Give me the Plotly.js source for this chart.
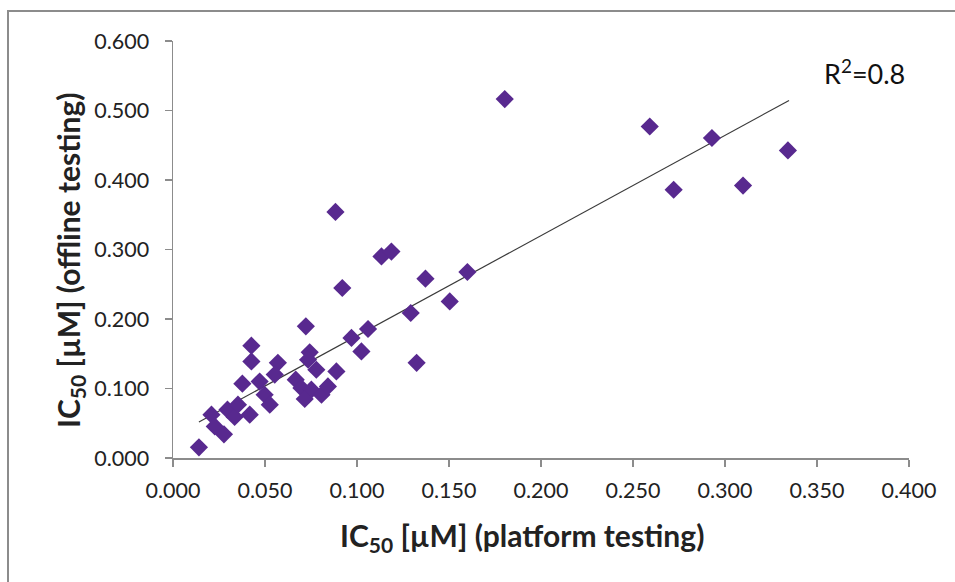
<!DOCTYPE html>
<html>
<head>
<meta charset="utf-8">
<script src="https://cdn.plot.ly/plotly-3.0.1.min.js"></script>
<style>
  html, body { margin:0; padding:0; background:#fff; overflow:hidden; }
  #frame { position:absolute; left:7px; top:10px; width:1200px; height:1200px;
           border-left:2px solid #8c8c8c; border-top:2px solid #8c8c8c; }
  #chart { position:absolute; left:0; top:0; width:955px; height:582px; }
</style>
</head>
<body>
<div id="frame"></div>
<div id="chart"></div>
<script>
// IC50 platform testing (x) vs offline testing (y), µM
const platformIC50 = [0.0141,0.0209,0.0227,0.0277,0.0296,0.0335,0.0353,0.0377,0.0417,0.0426,
  0.0426,0.0471,0.0498,0.0526,0.0570,0.0553,0.0722,0.0743,0.0734,0.0779,
  0.0667,0.0698,0.0752,0.0716,0.0807,0.0842,0.0888,0.0970,0.1024,0.1060,
  0.0883,0.0920,0.1133,0.1187,0.1292,0.1324,0.1372,0.1504,0.1600,0.1803,
  0.2591,0.2721,0.2929,0.3098,0.3342];
const offlineIC50 = [0.0153,0.0623,0.0455,0.0340,0.0695,0.0590,0.0767,0.1070,0.0623,0.1616,
  0.1390,0.1100,0.0910,0.0767,0.1370,0.1200,0.1894,0.1520,0.1414,0.1270,
  0.1127,0.1007,0.0983,0.0849,0.0910,0.1030,0.1246,0.1727,0.1534,0.1856,
  0.3540,0.2446,0.2900,0.2970,0.2086,0.1370,0.2580,0.2253,0.2676,0.5165,
  0.4770,0.3860,0.4604,0.3920,0.4426];
// linear trend line endpoints (as drawn in the reference)
const trendX = [0.0141, 0.3348];
const trendY = [0.0518, 0.5145];
const xTicks = [0,0.05,0.1,0.15,0.2,0.25,0.3,0.35,0.4];
const yTicks = [0,0.1,0.2,0.3,0.4,0.5,0.6];
const rSquaredLabel = 'R<sup>2</sup>=0.8';

const font = 'Lato, "Open Sans", "Liberation Sans", sans-serif';

const traces = [
  { x: trendX, y: trendY, mode:'lines', type:'scatter',
    line:{color:'#3a3a3a', width:1.2}, hoverinfo:'skip', showlegend:false },
  { x: platformIC50, y: offlineIC50, mode:'markers', type:'scatter',
    marker:{symbol:'diamond', size:14, color:'#58298f', line:{width:0}},
    showlegend:false }
];

const axisCommon = {
  showgrid:false, zeroline:false, showline:true, linecolor:'#8c8c8c', linewidth:1.5,
  ticks:'outside', ticklen:7, tickwidth:1.5, tickcolor:'#8c8c8c',
  tickfont:{family:font, size:21.5, color:'#222'}, tickformat:'.3f', tickmode:'array'
};

const layout = {
  width:955, height:582,
  margin:{l:173, r:46, t:41, b:124},
  paper_bgcolor:'rgba(0,0,0,0)', plot_bgcolor:'rgba(0,0,0,0)',
  xaxis: Object.assign({}, axisCommon, {range:[0,0.4], tickvals:xTicks, ticklabelstandoff:6}),
  yaxis: Object.assign({}, axisCommon, {range:[0,0.6], tickvals:yTicks, ticklabelstandoff:11}),
  font:{family:font},
  annotations:[
    { text:'IC<sub>50</sub> [µM] (platform testing)', xref:'paper', yref:'paper',
      x:0.474, y:-0.19, xanchor:'center', yanchor:'middle', showarrow:false,
      font:{family:font, size:30, color:'#222', weight:'bold'} },
    { text:'IC<sub>50</sub> [µM] (offline testing)', xref:'paper', yref:'paper',
      x:-0.14, y:0.475, xanchor:'center', yanchor:'middle', textangle:-90, showarrow:false,
      font:{family:font, size:30, color:'#222', weight:'bold'} },
    { text: rSquaredLabel, xref:'paper', yref:'paper',
      x:0.94, y:0.925, xanchor:'center', yanchor:'middle', showarrow:false,
      font:{family:font, size:27, color:'#111'} }
  ]
};

Plotly.newPlot('chart', traces, layout, {displayModeBar:false, staticPlot:true});
</script>
</body>
</html>
